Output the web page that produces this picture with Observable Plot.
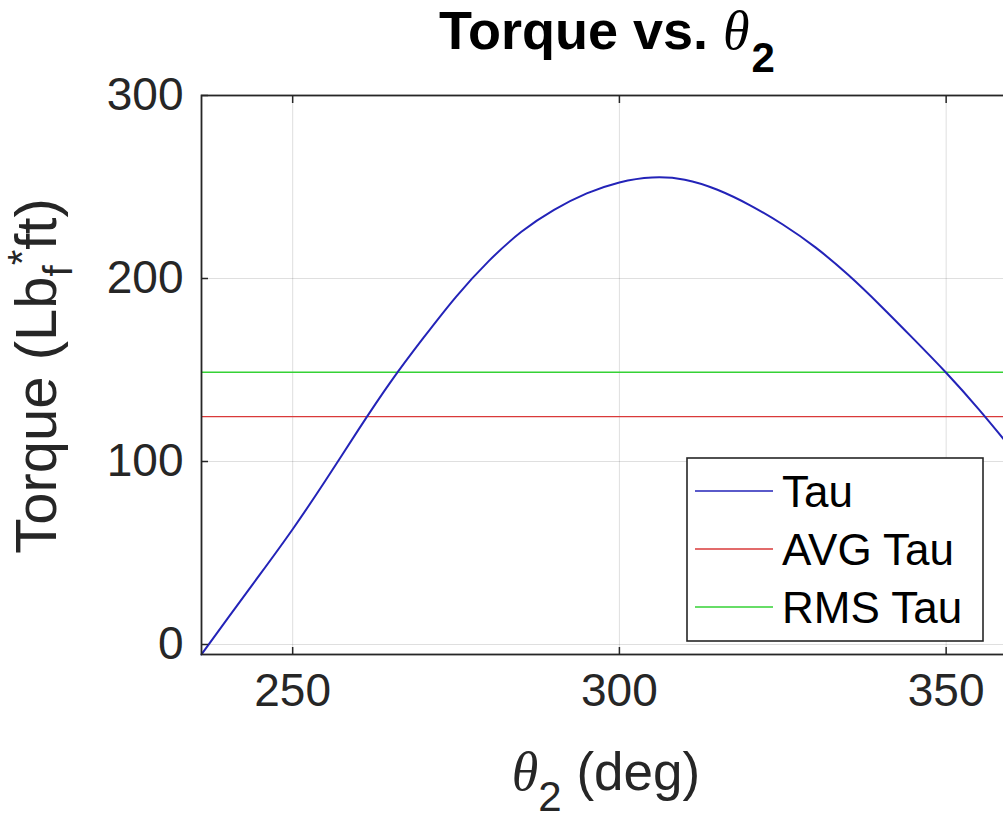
<!DOCTYPE html>
<html>
<head>
<meta charset="utf-8">
<script src="https://cdn.jsdelivr.net/npm/d3@7"></script>
<script src="https://cdn.jsdelivr.net/npm/@observablehq/plot@0.6"></script>
<style>
  html, body { margin: 0; padding: 0; background: #fff; overflow: hidden; }
  #wrap { position: relative; width: 1011px; height: 819px; }
  #overlay { position: absolute; left: 0; top: 0; pointer-events: none; }
</style>
</head>
<body>
<div id="wrap"></div>
<script>
// ---- data ----
const theta = [236.05, 240, 245, 250, 255, 260, 265, 270, 275, 280, 285, 290, 295, 300, 305, 310, 315, 320, 325, 330, 335, 340, 345, 350, 355, 360];
const tau   = [-5.4, 14, 38.3, 63, 89.5, 117, 143.5, 167.5, 190, 209.5, 225.5, 237.5, 246.5, 252.5, 255.2, 254, 248.5, 240, 229.5, 217, 202, 185, 167, 148.5, 128.5, 107];
const avgTau = [124.5];
const rmsTau = [148.8];
const xTicks = [250, 300, 350];
const yTicks = [0, 100, 200, 300];
const seriesNames = ["Tau", "AVG Tau", "RMS Tau"];
const seriesColors = ["#2323b8", "#d93a3a", "#35d235"];

const xDomain = [236.05, 360];
const yDomain = [-5.46, 300];
const axisColor = "#262626";
const font = "'Liberation Sans', Arial, Helvetica, sans-serif";

const rows = theta.map((t, i) => ({theta: t, tau: tau[i]}));

const chart = Plot.plot({
  width: 1011,
  height: 819,
  marginLeft: 201,
  marginRight: 0,
  marginTop: 95,
  marginBottom: 165,
  style: {maxWidth: "none", fontFamily: font, background: "white", color: axisColor, overflow: "visible"},
  x: {domain: xDomain},
  y: {domain: yDomain},
  marks: [
    Plot.gridX(xTicks, {stroke: axisColor, strokeOpacity: 0.15, strokeWidth: 1}),
    Plot.gridY(yTicks, {stroke: axisColor, strokeOpacity: 0.15, strokeWidth: 1}),
    Plot.ruleY(avgTau, {stroke: seriesColors[1], strokeWidth: 1.3}),
    Plot.ruleY(rmsTau, {stroke: seriesColors[2], strokeWidth: 1.5}),
    Plot.line(rows, {x: "theta", y: "tau", stroke: seriesColors[0], strokeWidth: 2, curve: "natural"}),
    Plot.axisX(xTicks, {anchor: "bottom", tickSize: 0, tickPadding: 19, fontSize: 46, label: null, fill: axisColor}),
    Plot.axisY(yTicks, {anchor: "left", tickSize: 0, tickPadding: 18, fontSize: 46, label: null, fill: axisColor}),
    Plot.axisX(xTicks, {anchor: "bottom", tickSize: 7, dy: -7, tickFormat: () => "", label: null, stroke: axisColor, strokeWidth: 1.5}),
    Plot.axisX(xTicks, {anchor: "top", tickSize: 7, dy: 7, tickFormat: () => "", label: null, stroke: axisColor, strokeWidth: 1.5}),
    Plot.axisY(yTicks, {anchor: "left", tickSize: 7, dx: 7, tickFormat: () => "", label: null, stroke: axisColor, strokeWidth: 1.5}),
    Plot.frame({stroke: axisColor, strokeWidth: 1.8})
  ]
});

const wrap = document.getElementById("wrap");
wrap.appendChild(chart);

// ---- title, axis labels and legend as real text ----
const NS = "http://www.w3.org/2000/svg";
const ov = document.createElementNS(NS, "svg");
ov.setAttribute("id", "overlay");
ov.setAttribute("width", 1011);
ov.setAttribute("height", 819);
ov.innerHTML = `
  <g font-family="${font}">
    <text x="607" y="49" text-anchor="middle" font-size="54" font-weight="bold" fill="#000">Torque vs. <tspan font-family="'Liberation Serif', 'DejaVu Serif', serif" font-style="italic" font-weight="normal" font-size="54">θ</tspan><tspan dx="2" dy="23" font-size="42" font-weight="bold">2</tspan></text>
    <text x="606" y="790" text-anchor="middle" font-size="53" fill="${axisColor}"><tspan font-family="'Liberation Serif', 'DejaVu Serif', serif" font-style="italic" font-size="54">θ</tspan><tspan dy="21" font-size="42">2</tspan><tspan dy="-21"> (deg)</tspan></text>
    <text transform="translate(56,376) rotate(-90)" text-anchor="middle" font-size="58" fill="${axisColor}">Torque (Lb<tspan dy="16" font-size="40">f</tspan><tspan dy="-36" font-size="40">*</tspan><tspan dy="20">ft)</tspan></text>
  </g>`;
wrap.appendChild(ov);

// legend
const lg = document.createElementNS(NS, "g");
lg.setAttribute("font-family", font);
const box = document.createElementNS(NS, "rect");
box.setAttribute("x", 687); box.setAttribute("y", 458);
box.setAttribute("width", 296); box.setAttribute("height", 183);
box.setAttribute("fill", "white"); box.setAttribute("stroke", axisColor); box.setAttribute("stroke-width", 1.6);
lg.appendChild(box);
seriesNames.forEach((name, i) => {
  const yy = 491 + i * 58;
  const ln = document.createElementNS(NS, "line");
  ln.setAttribute("x1", 695); ln.setAttribute("x2", 773);
  ln.setAttribute("y1", yy); ln.setAttribute("y2", yy);
  ln.setAttribute("stroke", seriesColors[i]); ln.setAttribute("stroke-width", i === 0 ? 1.6 : 1.4);
  lg.appendChild(ln);
  const tx = document.createElementNS(NS, "text");
  tx.setAttribute("x", 782); tx.setAttribute("y", yy + 15.5);
  tx.setAttribute("font-size", 44); tx.setAttribute("fill", "#000");
  tx.textContent = name;
  lg.appendChild(tx);
});
ov.appendChild(lg);
</script>
</body>
</html>
